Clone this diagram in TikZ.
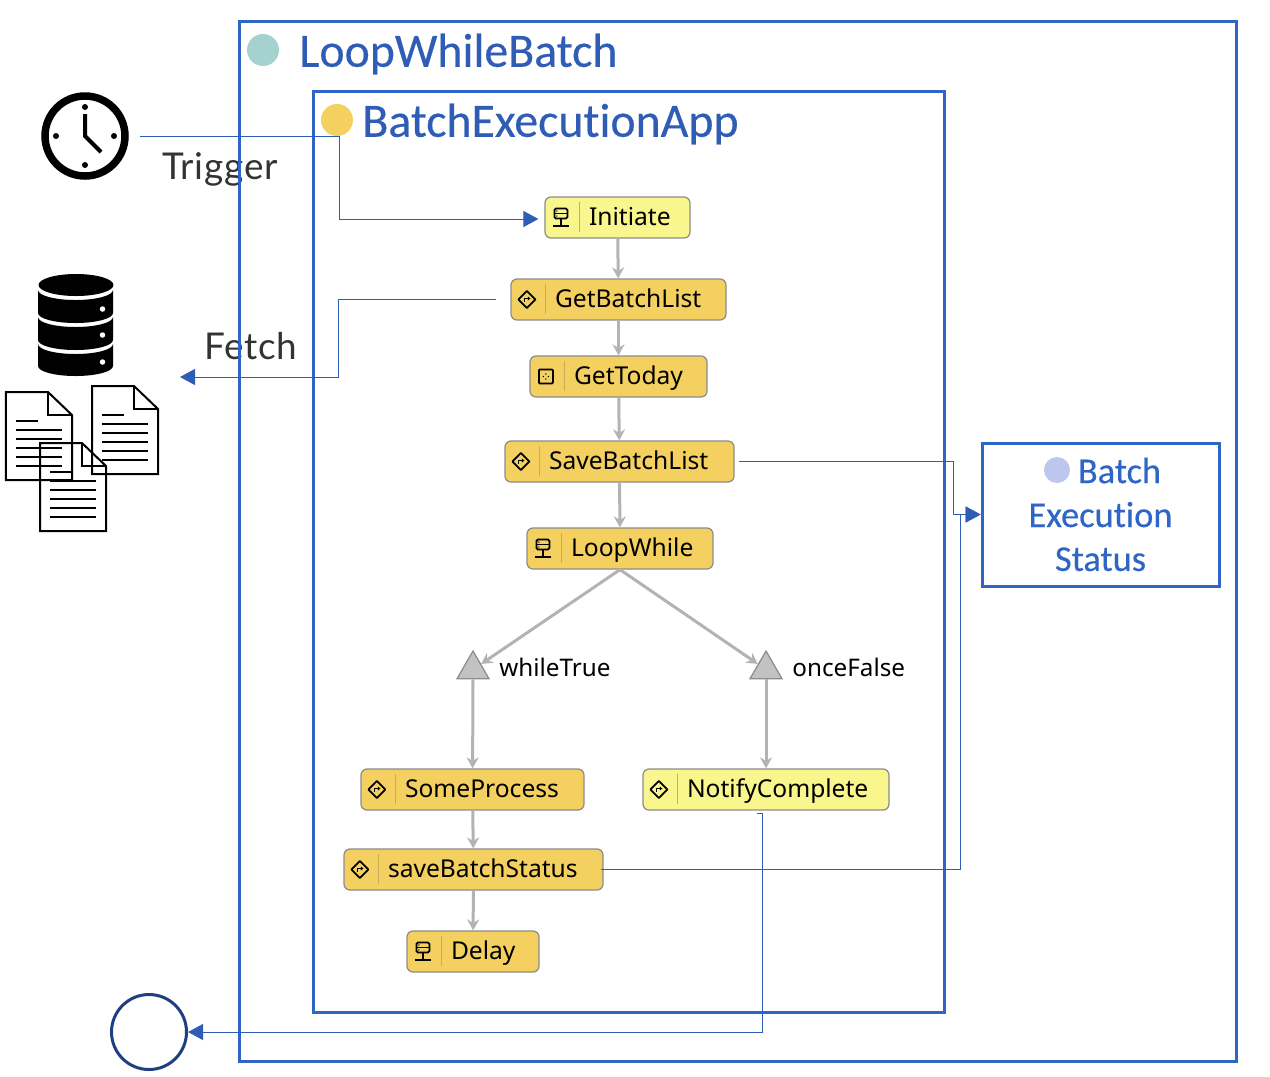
\documentclass[tikz,border=0pt]{standalone}
\usepackage{fontspec}
\setmainfont{Noto Sans}
\newfontfamily\titlefont[Ligatures=NoCommon,FakeBold=0.4]{Carlito}
\newfontfamily\notefont[LetterSpace=2]{Lato}
\usetikzlibrary{arrows.meta,positioning,shapes.geometric}
\definecolor{framec}{HTML}{2F66C6}
\definecolor{titlec}{HTML}{2F5DB5}
\definecolor{flowc}{HTML}{2F5DB5}
\definecolor{stepgold}{HTML}{F3D060}
\definecolor{steplime}{HTML}{F8F68C}
\definecolor{stepedge}{HTML}{8C8C8C}
\definecolor{stepsepc}{HTML}{C9AE58}
\definecolor{seqc}{HTML}{B3B3B3}
\definecolor{endc}{HTML}{1F3F80}
\tikzset{
  framebox/.style={draw=framec,line width=0.6mm,inner sep=0},
  titletxt/.style={titlec,anchor=west,inner sep=0,font=\titlefont\fontsize{27.2}{32}\selectfont},
  titledot/.style={circle,inner sep=0,minimum size=0.64cm},
  stepbox/.style={draw=stepedge,line width=0.25mm,rounded corners=0.12cm,inner xsep=0,inner ysep=0,
    text width=#1,minimum height=0.82cm,text height=0.4cm,text depth=0.07cm,align=left,font=\fontsize{14}{16}\selectfont},
  choicetri/.style={regular polygon,regular polygon sides=3,draw=stepedge,line width=0.25mm,fill=seqc!80,inner sep=0,minimum size=0.74cm},
  choicetxt/.style={anchor=west,inner sep=0,font=\fontsize{13.8}{16}\selectfont},
  notetxt/.style={anchor=center,inner sep=0,text=black!80,font=\notefont\fontsize{21}{24}\selectfont},
  seqline/.style={seqc,line width=0.6mm,-{Stealth[length=2.2mm,width=2.4mm]}},
  flowline/.style={flowc,line width=0.2mm,-{Triangle[length=3mm,width=3.2mm]}},
  iconline/.style={line width=0.35mm,black},
  stepdiamond/.pic={
    \draw[iconline,line join=round] (-0.17,0) -- (0,0.17) -- (0.17,0) -- (0,-0.17) -- cycle;
    \draw[line width=0.2mm] (-0.05,-0.04) -- (-0.05,0.02) -- (0.03,0.02);
    \fill (0.07,0.02) -- (0.02,0.06) -- (0.02,-0.02) -- cycle;
  },
  stepserver/.pic={
    \draw[iconline,rounded corners=0.03cm] (-0.13,-0.02) rectangle (0.13,0.18);
    \draw[iconline] (-0.13,0.08) -- (0.13,0.08) (0,-0.02) -- (0,-0.17) (-0.16,-0.17) -- (0.16,-0.17);
    \fill (-0.08,0.13) circle (0.015) (-0.08,0.03) circle (0.015);
  },
  stepdots/.pic={
    \draw[iconline,rounded corners=0.02cm] (-0.14,-0.14) rectangle (0.14,0.14);
    \fill (-0.05,0) circle (0.015) (0.05,0) circle (0.015) (0,0.05) circle (0.015) (0,-0.05) circle (0.015);
  },
  docicon/.pic={
    \draw[line width=0.4mm] (0,0) -- (0.84,0) -- (1.32,-0.46) -- (1.32,-1.76) -- (0,-1.76) -- cycle;
    \draw[line width=0.4mm] (0.84,0) -- (0.84,-0.46) -- (1.32,-0.46);
    \draw[line width=0.35mm] (0.2,-0.58) -- (0.64,-0.58);
    \draw[line width=0.35mm] (0.2,-0.76) -- (1.12,-0.76) (0.2,-0.94) -- (1.12,-0.94) (0.2,-1.12) -- (1.12,-1.12)
       (0.2,-1.3) -- (1.12,-1.3) (0.2,-1.48) -- (1.12,-1.48);
  },
}
\newcommand{\stepicon}[2]{
  \pic at ([xshift=0.33cm]#1.west) {#2};
  \draw[stepsepc,line width=0.3mm] ([xshift=0.7cm,yshift=-0.12cm]#1.north west) -- ([xshift=0.7cm,yshift=0.14cm]#1.south west);
}
\begin{document}
\begin{tikzpicture}
  \useasboundingbox (0,0) rectangle (25.4,-21.52);
  % labels that the outer frame runs over
  \node[notetxt] (triggertxt) at (4.4,-3.38) {Trigger};
  \node[notetxt] (fetchtxt) at (5.02,-6.92) {Fetch};
  % frames
  \node[framebox,minimum width=19.94cm,minimum height=20.8cm] (loopframe) at (14.75,-10.82) {};
  \node[framebox,minimum width=12.62cm,minimum height=18.42cm] (appframe) at (12.57,-11.04) {};
  \node[framebox,framec,minimum width=4.74cm,minimum height=2.86cm,align=center,
        font=\titlefont\fontsize{20.7}{25}\selectfont] (status) at (22.01,-10.29) {\hspace*{0.76cm}Batch\\Execution\\Status};
  \node[titledot,fill={rgb,255:red,165;green,209;blue,207}] (loopdot) at (5.26,-1.0) {};
  \node[titletxt] (looptxt) at (5.98,-1.08) {LoopWhileBatch};
  \node[titledot,fill=stepgold] (appdot) at (6.74,-2.4) {};
  \node[titletxt] (apptxt) at (7.24,-2.48) {BatchExecutionApp};
  \node[titledot,minimum size=0.52cm,fill={rgb,255:red,189;green,198;blue,236}] (statusdot) at (21.14,-9.4) {};
  % clock
  \node[circle,draw,line width=1.5mm,inner sep=0,minimum size=1.6cm] (clock) at (1.7,-2.72) {};
  \fill (1.7,-2.14) circle (0.06) (1.7,-3.3) circle (0.06) (1.12,-2.72) circle (0.06) (2.28,-2.72) circle (0.06);
  \draw[line width=0.8mm] (1.7,-2.28) -- (1.7,-2.72) -- (2.02,-3.04);
  % database
  \fill (1.52,-5.7) ellipse (0.75 and 0.22);
  \fill (0.76,-5.8) arc (180:360:0.75 and 0.2) -- (2.26,-6.26) arc (360:180:0.75 and 0.2) -- cycle;
  \fill (0.76,-6.34) arc (180:360:0.75 and 0.2) -- (2.26,-6.8) arc (360:180:0.75 and 0.2) -- cycle;
  \fill (0.76,-6.88) arc (180:360:0.75 and 0.2) -- (2.26,-7.32) arc (360:180:0.75 and 0.2) -- cycle;
  \fill[white] (2.05,-6.18) circle (0.055) (2.05,-6.7) circle (0.055) (2.05,-7.24) circle (0.055);
  % documents
  \pic at (0.12,-7.84) {docicon};
  \pic at (1.84,-7.72) {docicon};
  \pic at (0.8,-8.86) {docicon};
  % steps
  \node[stepbox=2.9cm,fill=steplime] (initiate) at (12.35,-4.35) {\hspace*{0.88cm}Initiate};
  \node[stepbox=4.3cm,fill=stepgold] (getlist) at (12.37,-5.99) {\hspace*{0.88cm}GetBatchList};
  \node[stepbox=3.54cm,fill=stepgold] (gettoday) at (12.37,-7.53) {\hspace*{0.88cm}GetToday};
  \node[stepbox=4.58cm,fill=stepgold] (savelist) at (12.39,-9.23) {\hspace*{0.88cm}SaveBatchList};
  \node[stepbox=3.72cm,fill=stepgold] (loopwhile) at (12.4,-10.97) {\hspace*{0.88cm}LoopWhile};
  \node[choicetri] (whiletrue) at (9.46,-13.39) {};
  \node[choicetri] (oncefalse) at (15.32,-13.39) {};
  \node[choicetxt] (whiletxt) at (9.98,-13.34) {whileTrue};
  \node[choicetxt] (oncetxt) at (15.84,-13.34) {onceFalse};
  \node[stepbox=4.46cm,fill=stepgold] (someproc) at (9.45,-15.79) {\hspace*{0.88cm}SomeProcess};
  \node[stepbox=5.18cm,fill=stepgold] (savestatus) at (9.47,-17.39) {\hspace*{0.88cm}saveBatchStatus};
  \node[stepbox=2.64cm,fill=stepgold] (delay) at (9.46,-19.03) {\hspace*{0.88cm}Delay};
  \node[stepbox=4.92cm,fill=steplime] (notify) at (15.32,-15.79) {\hspace*{0.88cm}NotifyComplete};
  \stepicon{initiate}{stepserver}
  \stepicon{getlist}{stepdiamond}
  \stepicon{gettoday}{stepdots}
  \stepicon{savelist}{stepdiamond}
  \stepicon{loopwhile}{stepserver}
  \stepicon{someproc}{stepdiamond}
  \stepicon{savestatus}{stepdiamond}
  \stepicon{delay}{stepserver}
  \stepicon{notify}{stepdiamond}
  % sequence arrows
  \draw[seqline] (initiate) -- (getlist);
  \draw[seqline] (getlist) -- (gettoday);
  \draw[seqline] (gettoday) -- (savelist);
  \draw[seqline] (savelist) -- (loopwhile);
  \draw[seqline] (loopwhile.south) -- (whiletrue);
  \draw[seqline] (loopwhile.south) -- (oncefalse);
  \draw[seqline] (whiletrue.south) -- (someproc);
  \draw[seqline] (oncefalse.south) -- (notify);
  \draw[seqline] (someproc) -- (savestatus);
  \draw[seqline] (savestatus) -- (delay);
  % end state
  \node[circle,draw=endc,line width=0.6mm,inner sep=0,minimum size=1.5cm] (endstate) at (2.98,-20.64) {};
  % flows
  \coordinate (trigbend) at (6.78,-4.38);
  \coordinate (fetchbend) at (6.76,-7.54);
  \coordinate (fetchend) at (3.6,-7.54);
  \draw[flowline,shorten <=0.22cm,shorten >=0.12cm] (clock.east) -| (trigbend) -- (initiate.west |- trigbend);
  \draw[flowline,shorten <=0.28cm] (getlist.west) -| (fetchbend) -- (fetchend);
  \draw[flowline,shorten <=0.08cm] (savelist.east) -| ([xshift=-0.54cm]status.west) -- (status.west);
  \draw[flowline,shorten <=-0.06cm] (savestatus.east) -| ([xshift=-0.4cm]status.west) -- (status.west);
  \draw[flowline] ([xshift=-0.18cm,yshift=-0.06cm]notify.south) -- ++(0.1,0) |- (endstate.east);
\end{tikzpicture}
\end{document}
